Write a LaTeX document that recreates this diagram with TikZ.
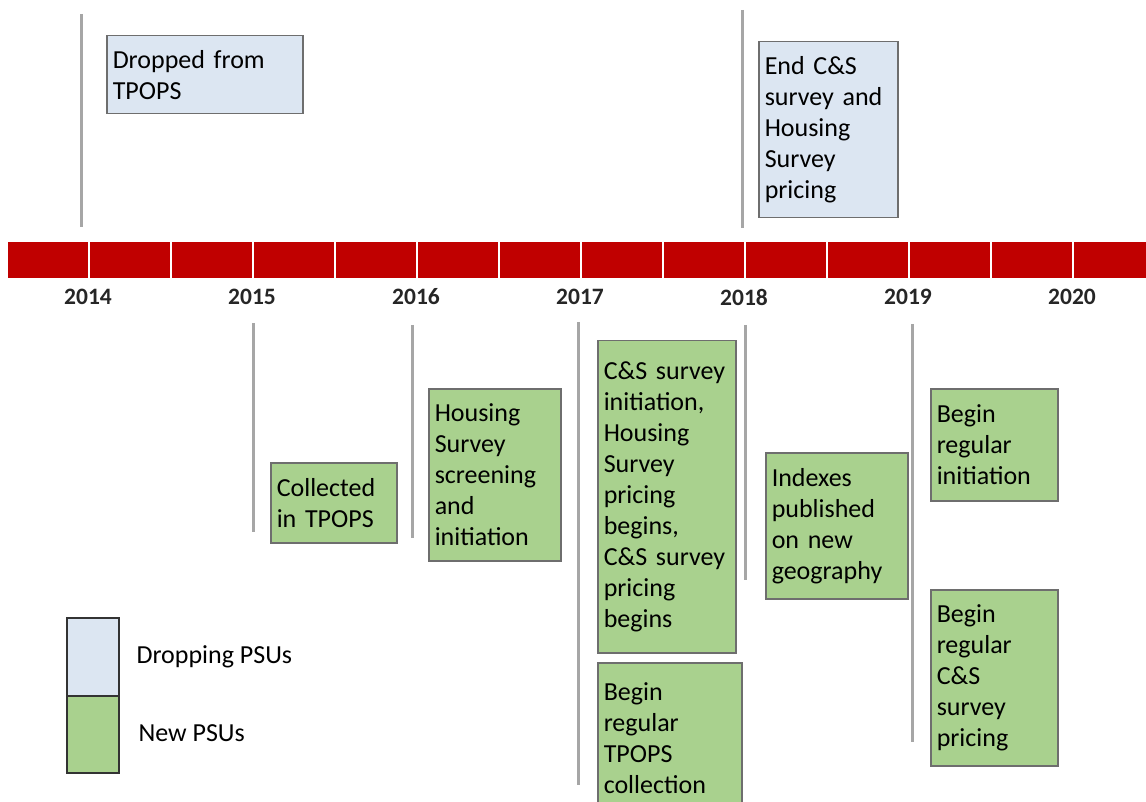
\documentclass[tikz,border=0pt]{standalone}
\usepackage{fontspec}
\setmainfont{Carlito}
\definecolor{barred}{HTML}{C00000}
\definecolor{dropblue}{HTML}{DCE6F2}
\definecolor{newgreen}{HTML}{A9D18E}
\definecolor{edgegray}{HTML}{6E6E6E}
\definecolor{tickgray}{HTML}{A6A6A6}
\tikzset{
  evt/.style={draw=edgegray, line width=1.5pt, anchor=north west, align=left,
    inner xsep=6pt, inner ysep=0pt, font=\fontsize{26}{31}\selectfont},
  dropbox/.style={evt, fill=dropblue},
  newbox/.style={evt, fill=newgreen},
  seg/.style={fill=barred, draw=white, line width=2pt, minimum width=82pt,
    minimum height=38pt, inner sep=0pt, anchor=north west},
  yr/.style={font=\fontsize{23.5}{27}\selectfont\bfseries, text=black!85},
  tick/.style={draw=tickgray, line width=3pt},
}
\begin{document}
\begin{tikzpicture}[x=1pt, y=-1pt]
  \useasboundingbox (0,0) rectangle (1146,802);

  % timeline bar
  \foreach \i in {0,...,13}
    \node[seg] (s\i) at ({6+82*\i}, 240) {};
  \foreach \yy [count=\k from 0] in {2014,...,2020}
    \node[yr] (y\yy) at ({88+164*\k}, 297) {\yy};

  % markers
  \draw[tick] (81, 14) -- (81, 227);
  \draw[tick] (742, 10) -- (742, 228);
  \draw[tick] (253, 323) -- (253, 532);
  \draw[tick] (412, 325) -- (412, 538);
  \draw[tick] (578, 322) -- (578, 785);
  \draw[tick] (745, 325) -- (745, 580);
  \draw[tick] (912, 324) -- (912, 742);

  % dropping PSUs
  \node[dropbox, text width=184pt, minimum height=78pt] (droptpops) at (106, 35)
    {Dropped from\\TPOPS};
  \node[dropbox, text width=127pt, minimum height=176pt] (endcs) at (758, 41)
    {End C\&S\\survey and\\Housing\\Survey\\pricing};

  % new PSUs
  \node[newbox, text width=114pt, minimum height=80pt] (collected) at (270, 462)
    {Collected\\in TPOPS};
  \node[newbox, text width=120pt, minimum height=172pt] (housing) at (428, 388)
    {Housing\\Survey\\screening\\and\\initiation};
  \node[newbox, text width=126pt, minimum height=312pt] (csinit) at (597, 340)
    {C\&S survey\\initiation,\\Housing\\Survey\\pricing\\begins,\\C\&S survey\\pricing\\begins};
  \node[newbox, text width=132pt, minimum height=150pt] (regtpops) at (597, 662)
    {Begin\\regular\\TPOPS\\collection};
  \node[newbox, text width=130pt, minimum height=146pt] (indexes) at (765, 452)
    {Indexes\\published\\on new\\geography};
  \node[newbox, text width=115pt, minimum height=112pt] (reginit) at (930, 388)
    {Begin\\regular\\initiation};
  \node[newbox, text width=115pt, minimum height=176pt] (regcs) at (930, 589)
    {Begin\\regular\\C\&S\\survey\\pricing};

  % legend
  \node[draw=black!80, line width=1.5pt, fill=dropblue, minimum width=52pt,
    minimum height=78pt, anchor=north west, inner sep=0pt] (legdrop) at (66, 617) {};
  \node[draw=black!80, line width=1.5pt, fill=newgreen, minimum width=52pt,
    minimum height=77pt, anchor=north west, inner sep=0pt] (legnew) at (66, 695) {};
  \node[anchor=west, font=\fontsize{26}{31}\selectfont] (legdroptxt) at (133, 657) {Dropping PSUs};
  \node[anchor=west, font=\fontsize{26}{31}\selectfont] (legnewtxt) at (135, 733) {New PSUs};
\end{tikzpicture}
\end{document}
